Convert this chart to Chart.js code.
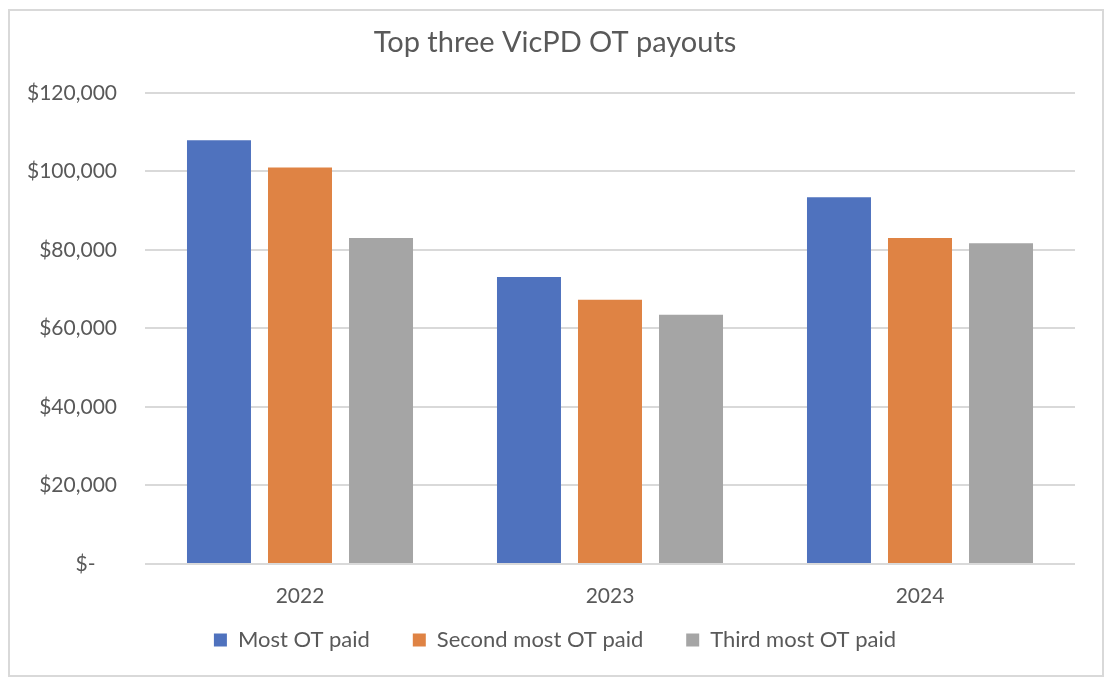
<!DOCTYPE html>
<html>
<head>
<meta charset="utf-8">
<script src="https://cdn.jsdelivr.net/npm/chart.js@4.4.0/dist/chart.umd.min.js"></script>
<style>
  html, body { margin: 0; padding: 0; background: #fff; }
  #wrap { position: relative; width: 1110px; height: 684px; }
  #frame { position: absolute; left: 8px; top: 9px; width: 1092px; height: 664px; border: 2px solid #d9d9d9; pointer-events: none; }
  canvas { position: absolute; left: 0; top: 0; }
</style>
</head>
<body>
<div id="wrap">
  <canvas id="chartOT" width="1110" height="684"></canvas>
  <div id="frame"></div>
</div>
<script>
// datos
const years = ["2022", "2023", "2024"];
const mostPaid = [107900, 73100, 93400];
const secondPaid = [101000, 67300, 83000];
const thirdPaid = [83000, 63500, 81700];
const seriesNames = ["Most OT paid", "Second most OT paid", "Third most OT paid"];
const yTicks = [0, 20000, 40000, 60000, 80000, 100000, 120000];

const FONT = "Lato, 'Open Sans', sans-serif";
const GREY_TXT = "#595959";

function money(v) {
  if (v === 0) return "$-    ";
  return "$" + v.toLocaleString("en-US");
}

const ctx = document.getElementById("chartOT");
const chartOT = new Chart(ctx, {
  type: "bar",
  data: {
    labels: years,
    datasets: [
      { label: seriesNames[0], data: mostPaid, backgroundColor: "#4f72be" },
      { label: seriesNames[1], data: secondPaid, backgroundColor: "#df8344" },
      { label: seriesNames[2], data: thirdPaid, backgroundColor: "#a5a5a5" },
    ],
  },
  options: {
    responsive: false,
    animation: false,
    layout: { padding: { left: 0, right: 0, top: 25, bottom: 23 } },
    datasets: {
      bar: { categoryPercentage: 0.784, barPercentage: 0.79 },
    },
    plugins: {
      title: {
        display: true,
        text: "Top three VicPD OT payouts",
        color: GREY_TXT,
        font: { family: FONT, size: 29, weight: "normal" },
        padding: { top: 0, bottom: 33 },
      },
      legend: {
        position: "bottom",
        labels: {
          color: GREY_TXT,
          font: { family: FONT, size: 22 },
          boxWidth: 13,
          boxHeight: 13,
          padding: 26,
          // espacios extra entre items sin agrandar el alto de la leyenda
          generateLabels: function (chart) {
            const items = Chart.defaults.plugins.legend.labels.generateLabels(chart);
            items.forEach(function (it, i) {
              if (i < items.length - 1) it.text = it.text + "   ";
            });
            return items;
          },
        },
      },
      tooltip: { enabled: false },
    },
    scales: {
      x: {
        afterFit: function (scale) { scale.height = 39; },
        grid: { display: false },
        border: { display: false },
        ticks: { color: GREY_TXT, font: { family: FONT, size: 21 }, padding: 12 },
      },
      y: {
        min: 0,
        max: 120000,
        afterFit: function (scale) { scale.width = 145; },
        afterBuildTicks: function (scale) {
          scale.ticks = yTicks.map(function (v) { return { value: v }; });
        },
        grid: { color: "#d9d9d9", lineWidth: 2, drawTicks: false },
        border: { display: false },
        ticks: {
          color: GREY_TXT,
          font: { family: FONT, size: 21 },
          padding: 28,
          callback: function (v) { return money(v); },
        },
      },
      // eje vacio a la derecha para dejar el margen y centrar titulo y leyenda
      yRight: {
        position: "right",
        min: 0,
        max: 1,
        afterFit: function (scale) { scale.width = 35; },
        grid: { display: false },
        border: { display: false },
        ticks: { display: false },
      },
    },
  },
});
</script>
</body>
</html>
